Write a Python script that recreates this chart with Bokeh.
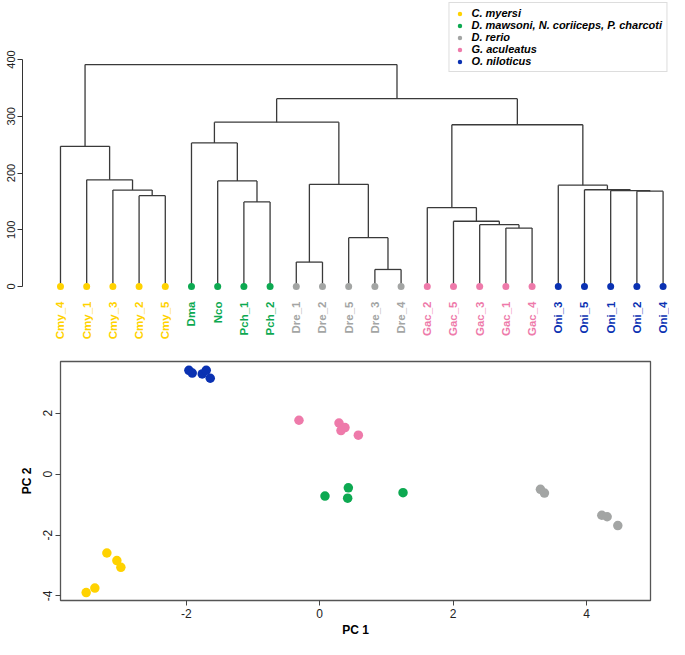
from math import pi
from bokeh.plotting import figure
from bokeh.models import Range1d, FixedTicker, Legend, LegendItem, ColumnDataSource
from bokeh.core.properties import value
from bokeh.embed import file_html
from bokeh.resources import INLINE

FONT = "Liberation Sans"

# ---------------- data ----------------
species = ["C. myersi", "D. mawsoni, N. coriiceps, P. charcoti", "D. rerio",
           "G. aculeatus", "O. niloticus"]
species_colors = ["#FFD200", "#0DA951", "#A3A5A4", "#EE7AAA", "#0A31B2"]
species_prefix = [["Cmy"], ["Dma", "Nco", "Pch"], ["Dre"], ["Gac"], ["Oni"]]

leaf_order = ["Cmy_4", "Cmy_1", "Cmy_3", "Cmy_2", "Cmy_5",
              "Dma", "Nco", "Pch_1", "Pch_2",
              "Dre_1", "Dre_2", "Dre_5", "Dre_3", "Dre_4",
              "Gac_2", "Gac_5", "Gac_3", "Gac_1", "Gac_4",
              "Oni_3", "Oni_5", "Oni_1", "Oni_2", "Oni_4"]

# merges: children are leaf names or indices of earlier merges
merge_left = ["Dre_3", "Dre_1", "Dre_5", "Gac_1", "Gac_3", "Gac_5", "Gac_2",
              "Pch_1", "Cmy_2", "Oni_2", "Oni_1", "Cmy_3", "Oni_5", "Oni_3",
              1, "Nco", "Cmy_1", "Cmy_4", "Dma", 6, 18, 20, 17]
merge_right = ["Dre_4", "Dre_2", 0, "Gac_4", 3, 4, 5,
               "Pch_2", "Cmy_5", "Oni_4", 9, 8, 10, 12,
               2, 7, 11, 16, 15, 13, 14, 19, 21]
merge_height = [30, 43, 86, 103, 109, 115, 139,
                149, 160, 168, 169, 170, 170.5, 178.5,
                180, 186, 188, 247, 253, 285, 289.5, 331, 391]

dendro_ticks = [0, 100, 200, 300, 400]

pc1_cmy = [-3.50, -3.37, -3.19, -3.04, -2.98]
pc2_cmy = [-3.89, -3.74, -2.59, -2.84, -3.06]
pc1_dpc = [0.08, 0.43, 0.42, 1.25]
pc2_dpc = [-0.72, -0.45, -0.79, -0.61]
pc1_dre = [3.31, 3.37, 4.23, 4.31, 4.47]
pc2_dre = [-0.50, -0.62, -1.35, -1.40, -1.69]
pc1_gac = [-0.31, 0.29, 0.38, 0.32, 0.58]
pc2_gac = [1.77, 1.68, 1.53, 1.43, 1.28]
pc1_oni = [-1.96, -1.91, -1.76, -1.70, -1.64]
pc2_oni = [3.41, 3.32, 3.29, 3.41, 3.15]

pca_x = [pc1_cmy, pc1_dpc, pc1_dre, pc1_gac, pc1_oni]
pca_y = [pc2_cmy, pc2_dpc, pc2_dre, pc2_gac, pc2_oni]
pc1_ticks = [-2, 0, 2, 4]
pc2_ticks = [-4, -2, 0, 2]

# ---------------- dendrogram layout ----------------
leaf_x = {name: i + 1 for i, name in enumerate(leaf_order)}


def species_of(name):
    pre = name.split("_")[0]
    for k, prefs in enumerate(species_prefix):
        if pre in prefs:
            return k
    return 0


node_x, node_h = [], []
seg_x0, seg_y0, seg_x1, seg_y1 = [], [], [], []


def child_pos(c):
    if isinstance(c, str):
        return leaf_x[c], 0.0
    return node_x[c], node_h[c]


for l, r, h in zip(merge_left, merge_right, merge_height):
    xl, hl = child_pos(l)
    xr, hr = child_pos(r)
    seg_x0 += [xl, xr, xl]
    seg_y0 += [hl, hr, h]
    seg_x1 += [xl, xr, xr]
    seg_y1 += [h, h, h]
    node_x.append((xl + xr) / 2.0)
    node_h.append(h)

H1 = 346
p1 = figure(width=669, height=H1, output_backend="svg", toolbar_location=None,
            x_range=Range1d(-0.450, 24.245),
            y_range=Range1d(-(H1 - 286) / 0.5675, 286 / 0.5675),
            x_axis_location=None, min_border_left=22, min_border_right=0,
            min_border_top=0, min_border_bottom=0)
p1.outline_line_color = None
p1.grid.visible = False
p1.background_fill_color = "white"
p1.border_fill_color = "white"

p1.segment(x0=seg_x0, y0=seg_y0, x1=seg_x1, y1=seg_y1,
           line_color="#3a3a3a", line_width=1.3)

leaf_colors = [species_colors[species_of(n)] for n in leaf_order]
legend_items = []
for k, sp in enumerate(species):
    names = [n for n in leaf_order if species_of(n) == k]
    r = p1.scatter(x=[leaf_x[n] for n in names], y=[0] * len(names),
                   size=7, color=species_colors[k], line_color=None)
    legend_items.append(LegendItem(label=sp, renderers=[r]))

src = ColumnDataSource(dict(x=[leaf_x[n] for n in leaf_order],
                            y=[0] * len(leaf_order),
                            t=leaf_order, c=leaf_colors))
p1.text(x="x", y="y", text="t", source=src, angle=pi / 2,
        text_align="right", text_baseline="middle", y_offset=15,
        text_color="c", text_font=value(FONT), text_font_style="bold",
        text_font_size="11.5px")

ax = p1.yaxis[0]
ax.ticker = FixedTicker(ticks=dendro_ticks)
ax.bounds = (0, 400)
ax.major_label_orientation = "vertical"
ax.major_label_text_font = FONT
ax.major_label_text_font_size = "11px"
ax.major_label_text_color = "#222222"
ax.major_label_standoff = 3
ax.major_tick_out = 5
ax.major_tick_in = 0
ax.minor_tick_line_color = None
ax.axis_line_color = "#333333"
ax.major_tick_line_color = "#333333"

legend = Legend(items=legend_items, location="top_right", margin=2,
                padding=4, spacing=0, glyph_width=12, glyph_height=11,
                label_height=11, label_standoff=6,
                label_text_font=FONT, label_text_font_style="bold italic",
                label_text_font_size="11px", label_text_color="black",
                border_line_color="#BBBBBB", border_line_width=1.5,
                background_fill_color="white", background_fill_alpha=1.0)
p1.add_layout(legend)

# ---------------- PCA ----------------
H2 = 639 - H1
p2 = figure(width=669, height=H2, output_backend="svg", toolbar_location=None,
            x_range=Range1d(-3.885, 4.96), y_range=Range1d(-4.15, 3.70),
            min_border_left=60, min_border_right=19, min_border_top=15,
            min_border_bottom=0)
p2.grid.visible = False
p2.outline_line_color = "#555555"
p2.outline_line_width = 1.3
p2.background_fill_color = "white"
p2.border_fill_color = "white"

for k in range(len(species)):
    p2.scatter(x=pca_x[k], y=pca_y[k], size=9.5, color=species_colors[k],
               line_color=None)

for a, ticks, lab in ((p2.xaxis[0], pc1_ticks, "PC 1"),
                      (p2.yaxis[0], pc2_ticks, "PC 2")):
    a.ticker = FixedTicker(ticks=ticks)
    a.major_label_overrides = {float(t): str(t) for t in ticks}
    a.axis_line_color = None
    a.major_tick_line_color = "#444444"
    a.major_tick_out = 5
    a.major_tick_in = 0
    a.minor_tick_line_color = None
    a.major_label_text_font = FONT
    a.major_label_text_font_size = "12px"
    a.major_label_text_color = "#222222"
    a.major_label_standoff = 3
    a.axis_label = lab
    a.axis_label_text_font = FONT
    a.axis_label_text_font_style = "bold"
    a.axis_label_text_font_size = "12px"
    a.axis_label_text_color = "black"
    a.axis_label_standoff = 2

p2.yaxis[0].major_label_orientation = "vertical"
p2.yaxis[0].axis_label_standoff = 7

open("out.html", "w").write(file_html([p1, p2], INLINE))
